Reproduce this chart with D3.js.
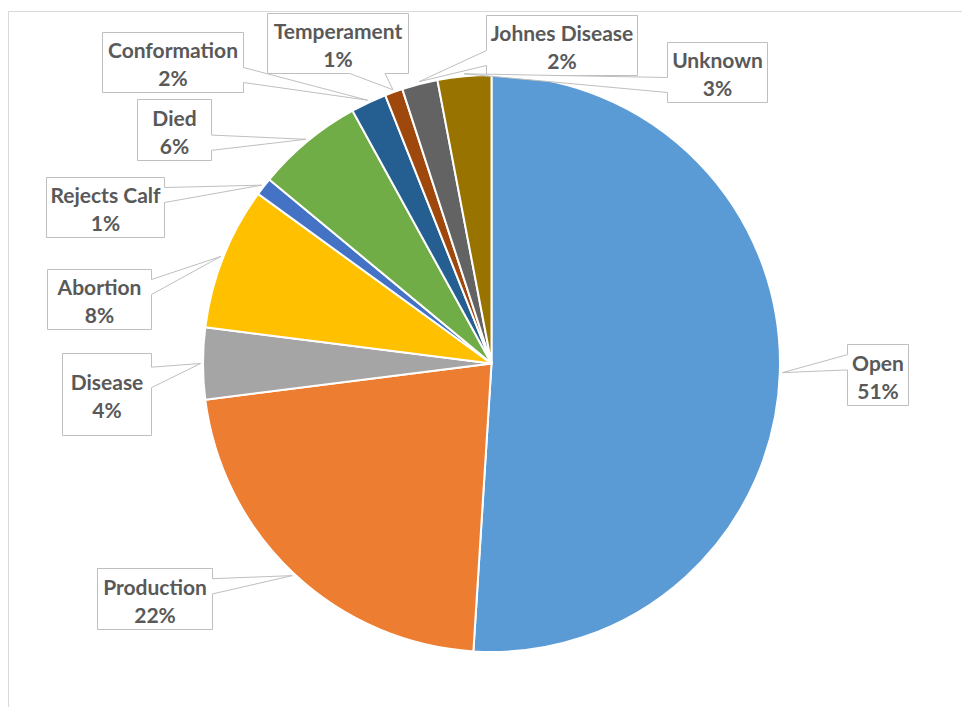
<!DOCTYPE html>
<html>
<head>
<meta charset="utf-8">
<script src="https://cdn.jsdelivr.net/npm/d3@7"></script>
<style>
  html, body { margin: 0; padding: 0; background: #ffffff; }
  svg { display: block; }
</style>
</head>
<body>
<svg id="chart" width="962" height="707"></svg>
<script>
// Reasons for culling, share of all culled cows (%)
const categories = ["Open", "Production", "Disease", "Abortion", "Rejects Calf",
                    "Died", "Conformation", "Temperament", "Johnes Disease", "Unknown"];
const shares = [51, 22, 4, 8, 1, 6, 2, 1, 2, 3];
const sliceColors = ["#5B9BD5", "#ED7D31", "#A5A5A5", "#FFC000", "#4472C4",
                     "#70AD47", "#255E91", "#9E480E", "#636363", "#997300"];

// Callout boxes (left, top, width, height) for each category, in page pixels
const calloutBoxes = [
  [847, 344, 61, 61],
  [97, 568, 115, 61],
  [62, 353, 89, 82],
  [47, 269, 104, 60],
  [46, 177, 118, 60],
  [137, 99, 74, 61],
  [102, 32, 141, 60],
  [267, 13, 141, 60],
  [486, 15, 151, 60],
  [667, 42, 100, 60]
];

const width = 962, height = 707;
const cx = 491.5, cy = 363.5, radius = 288.5;

const svg = d3.select("#chart");

// chart area frame
svg.append("rect")
  .attr("x", 8.5).attr("y", 11.5)
  .attr("width", 1000).attr("height", 1000)
  .attr("fill", "#ffffff")
  .attr("stroke", "#d9d9d9").attr("stroke-width", 1);

const pie = d3.pie().sort(null).value(d => d);
const arcs = pie(shares);
const arc = d3.arc().innerRadius(0).outerRadius(radius);

const g = svg.append("g").attr("transform", `translate(${cx},${cy})`);

g.selectAll("path.slice")
  .data(arcs)
  .join("path")
  .attr("class", "slice")
  .attr("d", arc)
  .attr("fill", (d, i) => sliceColors[i])
  .attr("stroke", "#ffffff")
  .attr("stroke-width", 2)
  .attr("stroke-linejoin", "round");

// Wedge-shaped callout: rectangle whose outline bends out to a tip point
function calloutPath(l, t, w, h, tx, ty) {
  const r = l + w, b = t + h;
  const dxPos = tx - (l + w / 2), dyPos = ty - (t + h / 2);
  const vertical = Math.abs(dyPos) * w > Math.abs(dxPos) * h;
  const p = [];
  if (!vertical) {
    const y1 = t + h * (dyPos > 0 ? 7 : 2) / 12;
    const y2 = t + h * (dyPos > 0 ? 10 : 5) / 12;
    if (dxPos < 0) {
      p.push([l, t], [r, t], [r, b], [l, b], [l, y2], [tx, ty], [l, y1]);
    } else {
      p.push([l, t], [r, t], [r, y1], [tx, ty], [r, y2], [r, b], [l, b]);
    }
  } else {
    const x1 = l + w * (dxPos > 0 ? 7 : 2) / 12;
    const x2 = l + w * (dxPos > 0 ? 10 : 5) / 12;
    if (dyPos < 0) {
      p.push([l, t], [x1, t], [tx, ty], [x2, t], [r, t], [r, b], [l, b]);
    } else {
      p.push([l, t], [r, t], [r, b], [x2, b], [tx, ty], [x1, b], [l, b]);
    }
  }
  return "M" + p.map(q => q[0] + "," + q[1]).join("L") + "Z";
}

const tipRadius = radius + 2.5;
const labels = svg.append("g").attr("class", "callouts");

arcs.forEach((a, i) => {
  const mid = (a.startAngle + a.endAngle) / 2;
  const tx = cx + tipRadius * Math.sin(mid);
  const ty = cy - tipRadius * Math.cos(mid);
  const [l, t, w, h] = calloutBoxes[i];

  labels.append("path")
    .attr("d", calloutPath(l + 0.5, t + 0.5, w, h, tx, ty))
    .attr("fill", "#ffffff")
    .attr("stroke", "#bfbfbf")
    .attr("stroke-width", 1);

  const text = labels.append("text")
    .attr("x", l + w / 2 + 0.5)
    .attr("y", t + h / 2)
    .attr("text-anchor", "middle")
    .attr("font-family", "Lato, 'Open Sans', sans-serif")
    .attr("font-weight", "bold")
    .attr("font-size", 21)
    .attr("fill", "#595959");
  text.append("tspan")
    .attr("x", l + w / 2 + 0.5).attr("dy", -4)
    .text(categories[i]);
  text.append("tspan")
    .attr("x", l + w / 2 + 0.5).attr("dy", 28)
    .text(a.data + "%");
});
</script>
</body>
</html>
